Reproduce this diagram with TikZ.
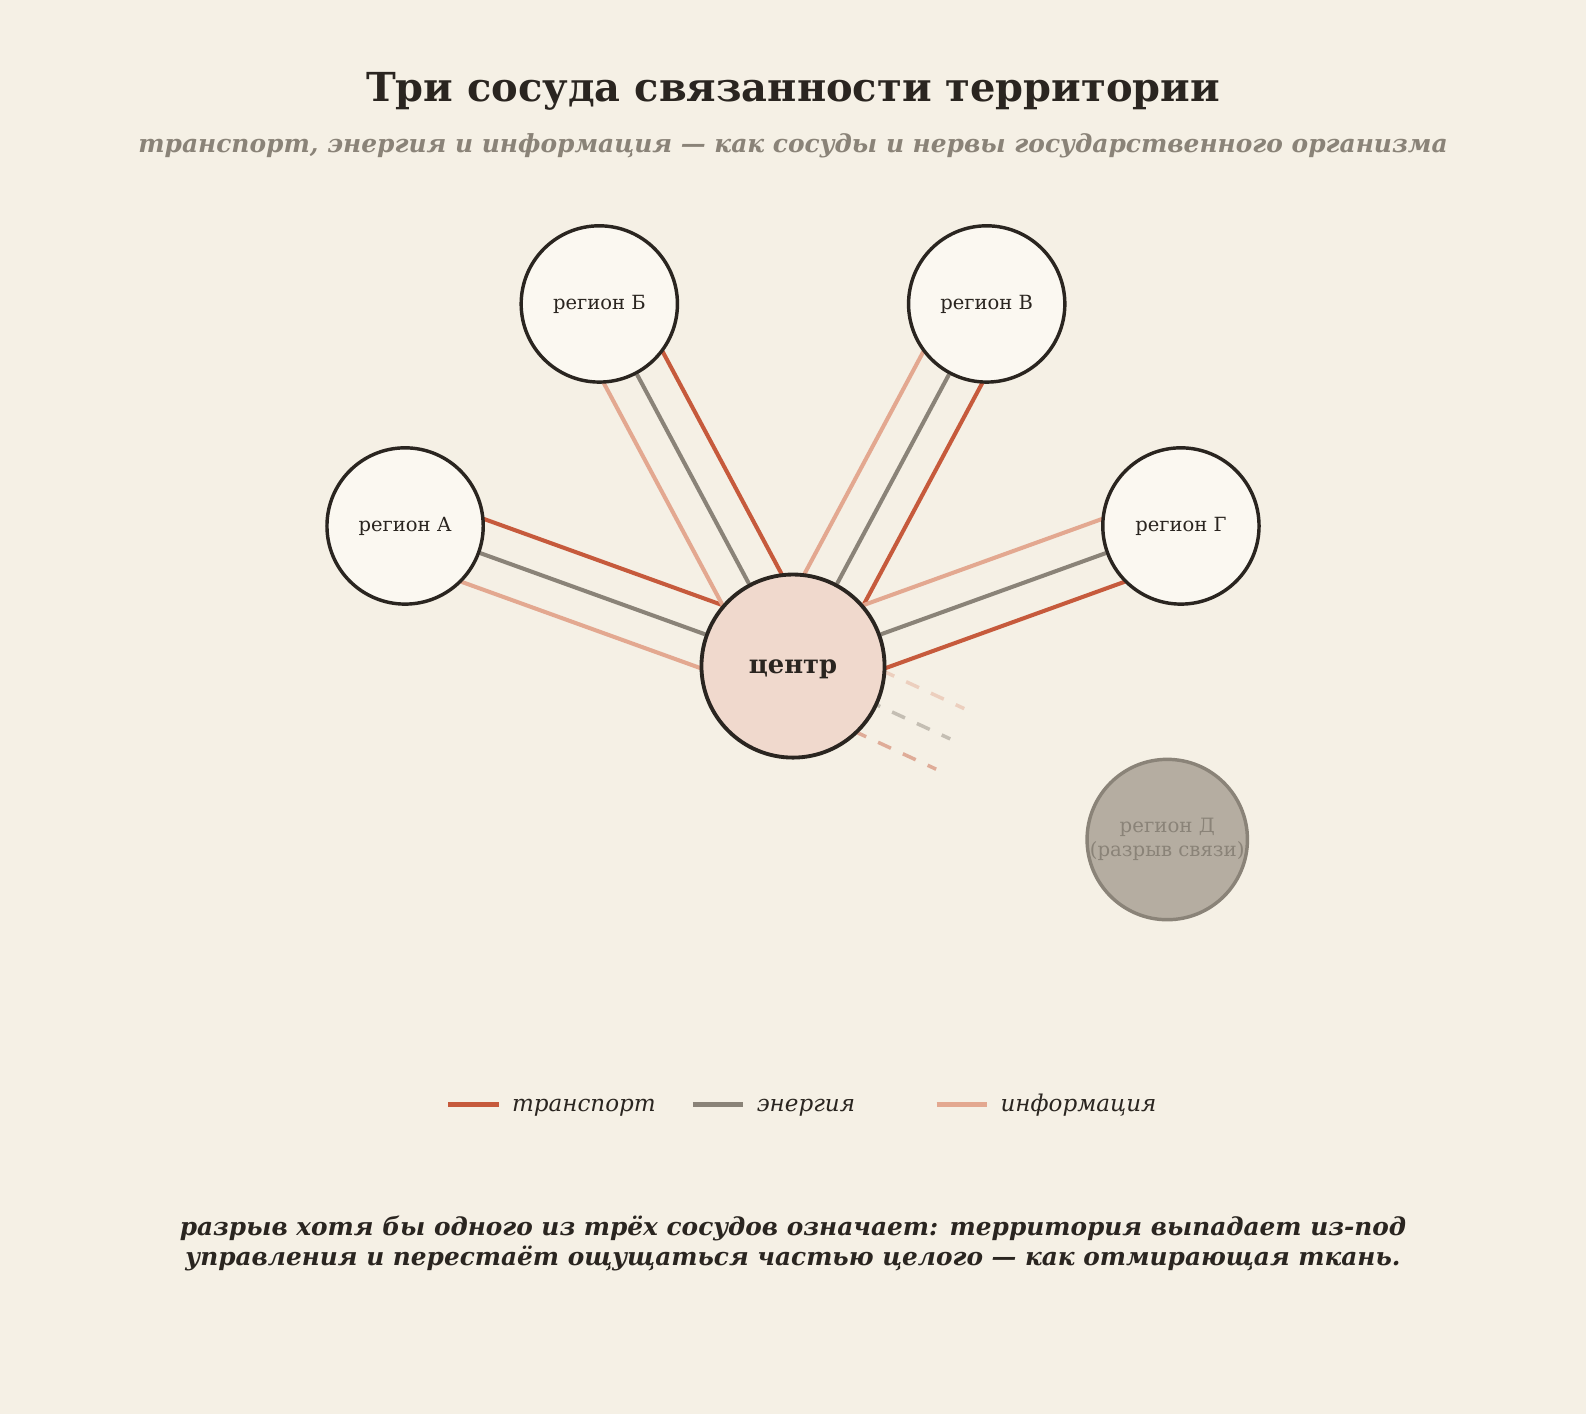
\documentclass[tikz,border=0pt]{standalone}
\usepackage{fontspec}
\setmainfont{DejaVu Serif}
\usetikzlibrary{calc}
\definecolor{bgc}{HTML}{F5F0E5}
\definecolor{ink}{HTML}{2A2520}
\definecolor{muted}{HTML}{8A8378}
\definecolor{regfill}{HTML}{FBF8F1}
\definecolor{cenfill}{HTML}{F0D9CD}
\definecolor{lostfill}{HTML}{B5ADA1}
\definecolor{trc}{HTML}{C65A3C}
\definecolor{enc}{HTML}{8A8378}
\definecolor{inc}{HTML}{E3A890}
\pgfdeclarelayer{bg}
\pgfsetlayers{bg,main}
\tikzset{
  region/.style={circle, draw=ink, line width=3.4bp, fill=regfill, minimum size=154.5bp, inner sep=0pt, text=ink, font=\fontsize{19.3bp}{23bp}\selectfont},
  centre/.style={circle, draw=ink, line width=3.8bp, fill=cenfill, minimum size=181bp, inner sep=0pt, text=ink, font=\fontsize{25.5bp}{30bp}\selectfont\bfseries},
  lost/.style={circle, draw=muted, line width=3.4bp, fill=lostfill, minimum size=154.5bp, inner sep=0pt, text=muted, align=center, font=\fontsize{19.5bp}{24bp}\selectfont},
  trans/.style={draw=trc, line width=4bp},
  ener/.style={draw=enc, line width=4bp},
  info/.style={draw=inc, line width=4bp},
  cut/.style={line width=3.5bp, opacity=0.45, dash pattern=on 14bp off 13bp},
  legtext/.style={anchor=base west, text=ink, font=\itshape\fontsize{22.8bp}{27bp}\selectfont, inner sep=0pt},
  notetext/.style={anchor=base, text=ink, font=\bfseries\itshape\fontsize{24.5bp}{30bp}\selectfont, inner sep=0pt},
}
\begin{document}
\begin{tikzpicture}[x=1bp,y=-1bp]
\useasboundingbox (0,0) rectangle (1568,1398);
% title
\node[anchor=base, text=ink, font=\bfseries\fontsize{39.5bp}{46bp}\selectfont, inner sep=0pt] (title) at (784,100) {Три сосуда связанности территории};
\node[anchor=base, text=muted, font=\bfseries\itshape\fontsize{24.6bp}{29bp}\selectfont, inner sep=0pt] (subtitle) at (784,151) {транспорт, энергия и информация — как сосуды и нервы государственного организма};
% nodes
\node[centre] (c) at (784,658.5) {\raisebox{-3bp}[\height][\depth]{центр}};
\node[region] (A) at (400.5,520) {регион А};
\node[region] (B) at (592.5,300.5) {регион Б};
\node[region] (V) at (975.5,300.5) {регион В};
\node[region] (G) at (1167.5,520) {регион Г};
\node[lost] (D) at (1154,830) {регион Д\\(разрыв связи)};
\coordinate (m) at ($(c)!0.42!(D)$);
\begin{pgfonlayer}{bg}
\fill[bgc] (0,0) rectangle (1568,1398);
\foreach \r in {A,B,V,G} {
  \draw[info] ($(c)!33bp!90:(\r)$) -- ($(\r)!33bp!-90:(c)$);
  \draw[ener] (c) -- (\r);
  \draw[trans] ($(c)!33bp!-90:(\r)$) -- ($(\r)!33bp!90:(c)$);
}
\draw[cut, draw=inc] ($(c)!33bp!90:(D)$) -- ($(m)!33bp!-90:(c)$);
\draw[cut, draw=enc] (c.center) -- (m);
\draw[cut, draw=trc] ($(c)!33bp!-90:(D)$) -- ($(m)!33bp!90:(c)$);
\end{pgfonlayer}
% legend
\coordinate (l1a) at (443,1092); \coordinate (l1b) at (493,1092);
\coordinate (l2a) at (685,1092); \coordinate (l2b) at (735,1092);
\coordinate (l3a) at (926,1092); \coordinate (l3b) at (976,1092);
\draw[trc, line width=5bp] (l1a) -- (l1b);
\draw[enc, line width=5bp] (l2a) -- (l2b);
\draw[inc, line width=5bp] (l3a) -- (l3b);
\node[legtext] (lt1) at (506,1099) {транспорт};
\node[legtext] (lt2) at (748,1099) {энергия};
\node[legtext] (lt3) at (989,1099) {информация};
% bottom note
\node[notetext] (note1) at (784,1221) {разрыв хотя бы одного из трёх сосудов означает: территория выпадает из-под};
\node[notetext] (note2) at (784,1251) {управления и перестаёт ощущаться частью целого — как отмирающая ткань.};
\end{tikzpicture}
\end{document}
